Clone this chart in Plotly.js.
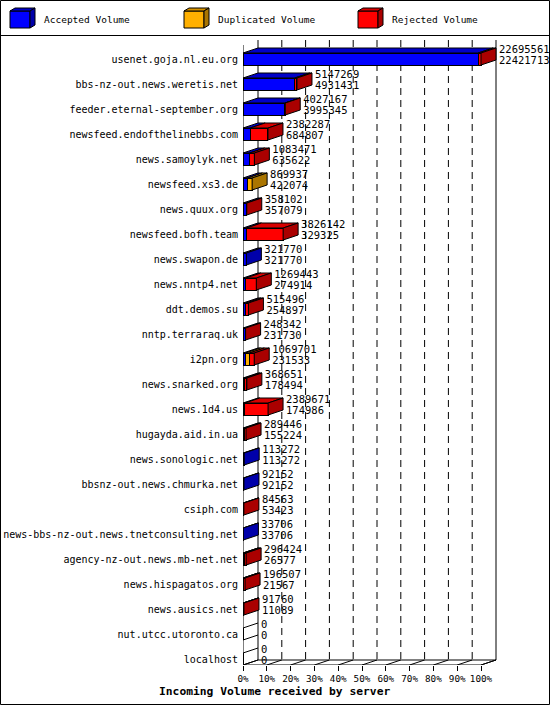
<!DOCTYPE html>
<html>
<head>
<meta charset="utf-8">
<script src="https://cdn.plot.ly/plotly-3.0.1.min.js"></script>
<style>
  body { margin: 0; background: #fff; }
  #chart { width: 550px; height: 705px; }
</style>
</head>
<body>
<div id="chart"></div>
<script>
// servers, top to bottom
const servers = [
    'usenet.goja.nl.eu.org', 'bbs-nz-out.news.weretis.net', 'feeder.eternal-september.org',
    'newsfeed.endofthelinebbs.com', 'news.samoylyk.net', 'newsfeed.xs3.de', 'news.quux.org',
    'newsfeed.bofh.team', 'news.swapon.de', 'news.nntp4.net', 'ddt.demos.su', 'nntp.terraraq.uk',
    'i2pn.org', 'news.snarked.org', 'news.1d4.us', 'hugayda.aid.in.ua', 'news.sonologic.net',
    'bbsnz-out.news.chmurka.net', 'csiph.com', 'news-bbs-nz-out.news.tnetconsulting.net',
    'agency-nz-out.news.mb-net.net', 'news.hispagatos.org', 'news.ausics.net',
    'nut.utcc.utoronto.ca', 'localhost'
];
// upper number next to each bar
const totals = [
    22695561, 5147269, 4027167, 2382287, 1083471, 869937, 358102, 3826142, 321770, 1269443,
    515496, 248342, 1069701, 368651, 2389671, 289446, 113272, 92152, 84563, 33706,
    296424, 196507, 91760, 0, 0
];
// lower number next to each bar
const accepted = [
    22421713, 4931431, 3995345, 684807, 635622, 422074, 357079, 329325, 321770, 274914,
    254897, 231730, 231533, 178494, 174986, 155224, 113272, 92152, 53423, 33706,
    26577, 21567, 11089, 0, 0
];
// estimated from the bar segments
const duplicated = [
    0, 0, 0, 0, 0, 447863, 0, 0, 0, 0,
    0, 0, 372000, 0, 0, 0, 0, 0, 0, 0,
    130000, 0, 0, 0, 0
];
const rejected = [
    273848, 215838, 31822, 1697480, 447849, 0, 1023, 3496817, 0, 994529,
    260599, 16612, 466168, 190157, 2214685, 134222, 0, 0, 31140, 0,
    139847, 174940, 80671, 0, 0
];
const seriesNames = ['Accepted Volume', 'Duplicated Volume', 'Rejected Volume'];
const tickPercents = [0, 10, 20, 30, 40, 50, 60, 70, 80, 90, 100];

// colours: front, top, side
const FRONT = ['#0000ff', '#ffb000', '#ff0000'];
const TOP   = ['#0000c8', '#d89400', '#d80000'];
const SIDE  = ['#0000aa', '#aa7500', '#aa0000'];
const FONT = 'DejaVu Sans Mono, monospace';

// geometry (pixels)
const LEFT = 243, PLOT_W = 305, TOP_PX = 40, PLOT_H = 625;
const PX_PER_PCT = 2.38, ROW_PX = 25;
const XMAX = PLOT_W / PX_PER_PCT;
const DX = 15 / PX_PER_PCT;   // 3d depth, to the right
const DY = 5 / ROW_PX;        // 3d depth, upwards
const H = 6 / ROW_PX;         // half bar height
const Y_TOP = -0.76, Y_BOT = Y_TOP + PLOT_H / ROW_PX;

const px = (x) => (x - LEFT) / PLOT_W;
const py = (y) => (TOP_PX + PLOT_H - y) / PLOT_H;

const maxTotal = Math.max(...totals);
const pct = (v) => v / maxTotal * 100;
const idx = servers.map((_, i) => i);

// 1. front faces (stacked bars)
const segs = [accepted, duplicated, rejected];
const traces = segs.map((arr, k) => ({
    type: 'bar', orientation: 'h',
    x: arr.map(pct), y: idx, width: 2 * H,
    marker: { color: FRONT[k], line: { color: '#000', width: 1 } },
    name: seriesNames[k], showlegend: false, hoverinfo: 'skip'
}));

// 2. tops and sides of the 3d bars
const tops = [0, 1, 2].map(() => ({ x: [], y: [] }));
const sides = [0, 1, 2].map(() => ({ x: [], y: [] }));
const empty = { x: [], y: [] };
const addPoly = (t, xs, ys) => { t.x.push(...xs, null); t.y.push(...ys, null); };

idx.forEach(i => {
    const yt = i - H, yb = i + H;
    let cum = 0, last = -1;
    segs.forEach((arr, k) => {
        const v = pct(arr[i]);
        if (v <= 0) return;
        addPoly(tops[k], [cum, cum + v, cum + v + DX, cum + DX, cum], [yt, yt, yt - DY, yt - DY, yt]);
        cum += v; last = k;
    });
    if (last >= 0) {
        addPoly(sides[last], [cum, cum + DX, cum + DX, cum, cum], [yt, yt - DY, yb - DY, yb, yt]);
    } else {
        addPoly(empty, [0, DX], [yt, yt - DY]);
        addPoly(empty, [0, DX], [yb, yb - DY]);
    }
});

const poly = (t, color) => ({
    type: 'scatter', mode: 'lines', x: t.x, y: t.y,
    fill: 'toself', fillcolor: color,
    line: { color: '#000', width: 1 },
    showlegend: false, hoverinfo: 'skip'
});
[0, 1, 2].forEach(k => traces.push(poly(tops[k], TOP[k])));
[0, 1, 2].forEach(k => traces.push(poly(sides[k], SIDE[k])));
traces.push({
    type: 'scatter', mode: 'lines', x: empty.x, y: empty.y,
    line: { color: '#000', width: 1 }, showlegend: false, hoverinfo: 'skip'
});

// 3. value labels, a few px right of the bar side
const labelX = totals.map(v => pct(v) + DX + 3 / PX_PER_PCT);
const textTrace = (ys, vals) => ({
    type: 'scatter', mode: 'text', x: labelX, y: ys,
    text: vals.map(String), textposition: 'middle right',
    textfont: { family: FONT, size: 10.5, color: '#000' },
    cliponaxis: false, showlegend: false, hoverinfo: 'skip'
});
traces.push(textTrace(idx.map(i => i - 0.36), totals));
traces.push(textTrace(idx.map(i => i + 0.08), accepted));

// 4. walls, floor, grid
const line = (x0, y0, x1, y1, extra) => Object.assign({
    type: 'line', xref: 'x', yref: 'y', x0, y0, x1, y1,
    line: { color: '#000', width: 1 }, layer: 'below'
}, extra || {});
const yBackBot = Y_BOT - DY;
const shapes = [
    line(0, Y_TOP + DY, 0, Y_BOT),
    line(DX, Y_TOP, DX, yBackBot),
    line(100 + DX, Y_TOP, 100 + DX, yBackBot),
    line(0, Y_BOT, 100, Y_BOT),
    line(DX, yBackBot, 100 + DX, yBackBot),
    line(100, Y_BOT, 100 + DX, yBackBot)
];
tickPercents.forEach(p => {
    if (p > 0 && p < 100) {
        shapes.push(line(p + DX, Y_TOP, p + DX, yBackBot, { line: { color: '#000', width: 1, dash: '7px,5px' } }));
    }
    shapes.push(line(p, Y_BOT, p + DX, yBackBot));
});

// frame + legend separator
shapes.push({ type: 'rect', xref: 'paper', yref: 'paper', x0: px(0.5), x1: px(549.5), y0: py(0.5), y1: py(704.5),
    line: { color: '#000', width: 1 } });
shapes.push({ type: 'line', xref: 'paper', yref: 'paper', x0: px(0), x1: px(550), y0: py(35.5), y1: py(35.5),
    line: { color: '#000', width: 1 } });

// legend cubes
const path = (pts) => 'M' + pts.map(p => px(p[0]) + ',' + py(p[1])).join('L') + 'Z';
const annotations = [];
[10, 184, 358].forEach((x, k) => {
    const cube = [
        [[x, 11], [x + 20, 11], [x + 20, 28], [x, 28]], FRONT[k],
        [[x, 11], [x + 5, 8], [x + 25, 8], [x + 20, 11]], TOP[k],
        [[x + 20, 11], [x + 25, 8], [x + 25, 25], [x + 20, 28]], SIDE[k]
    ];
    for (let j = 0; j < cube.length; j += 2) {
        shapes.push({ type: 'path', xref: 'paper', yref: 'paper', path: path(cube[j]),
            fillcolor: cube[j + 1], line: { color: '#000', width: 1 } });
    }
    annotations.push({ xref: 'paper', yref: 'paper', x: px(x + 32), y: py(20), xanchor: 'left', yanchor: 'middle',
        text: seriesNames[k], showarrow: false, font: { family: FONT, size: 9.5, color: '#000' } });
});

annotations.push({ xref: 'paper', yref: 'paper', x: px(274), y: py(692), xanchor: 'center', yanchor: 'middle',
    text: '<b>Incoming Volume received by server</b>', showarrow: false,
    font: { family: FONT, size: 11.3, color: '#000' } });

const layout = {
    width: 550, height: 705,
    paper_bgcolor: '#fff', plot_bgcolor: '#fff',
    margin: { l: LEFT, r: 550 - LEFT - PLOT_W, t: TOP_PX, b: 705 - TOP_PX - PLOT_H, pad: 0 },
    barmode: 'stack', showlegend: false,
    xaxis: {
        range: [0, XMAX], tickvals: tickPercents, ticktext: tickPercents.map(p => p + '%'),
        ticks: 'outside', ticklen: 5, tickcolor: '#000',
        tickfont: { family: FONT, size: 9.3, color: '#000' },
        showgrid: false, zeroline: false, showline: false, fixedrange: true
    },
    yaxis: {
        range: [Y_BOT, Y_TOP], tickvals: idx, ticktext: servers,
        ticks: '', ticklabelstandoff: 4,
        tickfont: { family: FONT, size: 10, color: '#000' },
        showgrid: false, zeroline: false, showline: false, fixedrange: true
    },
    shapes, annotations
};

Plotly.newPlot('chart', traces, layout, { displayModeBar: false, staticPlot: true });
</script>
</body>
</html>
